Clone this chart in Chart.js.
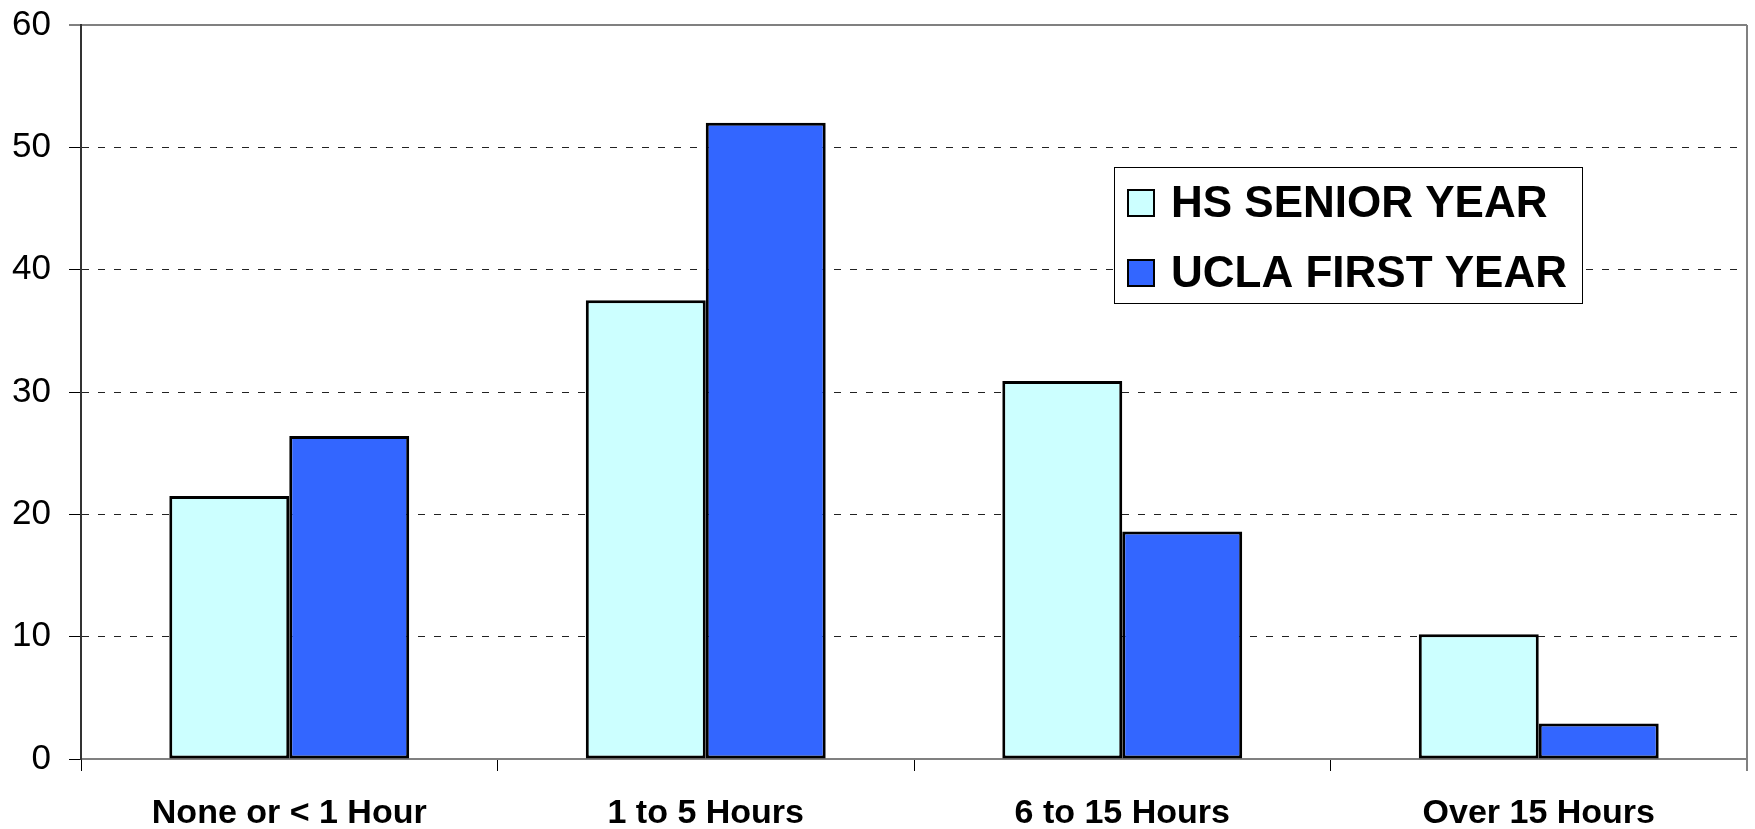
<!DOCTYPE html>
<html>
<head>
<meta charset="utf-8">
<script src="https://cdn.jsdelivr.net/npm/chart.js@4/dist/chart.umd.min.js"></script>
<style>
  html, body { margin: 0; padding: 0; background: #fff; }
  #wrap { width: 1755px; height: 829px; }
</style>
</head>
<body>
<div id="wrap"><canvas id="hoursChart"></canvas></div>
<script>
const categories = ['None or < 1 Hour', '1 to 5 Hours', '6 to 15 Hours', 'Over 15 Hours'];
const hsSenior = [21.5, 37.5, 30.9, 10.2];
const uclaFirst = [26.4, 52.0, 18.6, 2.9];
const yTicks = [0, 10, 20, 30, 40, 50, 60];

const FONT = '"Liberation Sans", Arial, sans-serif';

// draws the right-hand frame line and the boxed legend inside the plot
const frameAndLegend = {
    id: 'frameAndLegend',
    afterDraw(chart) {
        const ctx = chart.ctx;
        const area = chart.chartArea;
        ctx.save();
        ctx.strokeStyle = '#808080';
        ctx.lineWidth = 2;
        ctx.beginPath();
        ctx.moveTo(area.right, area.top);
        ctx.lineTo(area.right, area.bottom + 12);
        ctx.stroke();

        // legend box
        const bx = 1114, by = 167, bw = 468, bh = 136;
        ctx.fillStyle = '#fff';
        ctx.fillRect(bx, by, bw, bh);
        ctx.strokeStyle = '#000';
        ctx.lineWidth = 1;
        ctx.strokeRect(bx + 0.5, by + 0.5, bw, bh);

        ctx.font = 'bold 44px ' + FONT;
        ctx.textBaseline = 'middle';
        chart.data.datasets.forEach(function (ds, i) {
            const cy = 203 + i * 70;
            ctx.fillStyle = ds.backgroundColor;
            ctx.fillRect(1128, cy - 13, 26, 26);
            ctx.lineWidth = 2;
            ctx.strokeStyle = '#000';
            ctx.strokeRect(1128, cy - 13, 26, 26);
            ctx.fillStyle = '#000';
            ctx.fillText(ds.label, 1171, cy + 2);
        });
        ctx.restore();
    }
};

let chartCtx = document.getElementById('hoursChart').getContext('2d');
let hoursChart = new Chart(chartCtx, {
    type: 'bar',
    data: {
        labels: categories,
        datasets: [{
            label: 'HS SENIOR YEAR',
            data: hsSenior,
            backgroundColor: '#CCFFFF',
            borderColor: '#000',
            borderWidth: 3,
            borderSkipped: false,
            categoryPercentage: 0.576,
            barPercentage: 1.0
        }, {
            label: 'UCLA FIRST YEAR',
            data: uclaFirst,
            backgroundColor: '#3366FF',
            borderColor: '#000',
            borderWidth: 3,
            borderSkipped: false,
            categoryPercentage: 0.576,
            barPercentage: 1.0
        }]
    },
    options: {
        responsive: true,
        maintainAspectRatio: false,
        animation: false,
        layout: { padding: { top: 25, right: 8, left: 0, bottom: 0 } },
        plugins: {
            legend: { display: false },
            tooltip: { enabled: false }
        },
        scales: {
            x: {
                grid: {
                    offset: true,
                    drawOnChartArea: false,
                    tickLength: 12,
                    tickColor: '#000',
                    tickWidth: 1
                },
                border: { color: '#808080', width: 2 },
                ticks: {
                    color: '#000',
                    padding: 22,
                    font: { family: FONT, size: 34, weight: 'bold' }
                },
                afterFit: function (scale) {
                    scale.height = 70;
                    scale.paddingLeft = 0;
                    scale.paddingRight = 0;
                }
            },
            y: {
                min: 0,
                max: 60,
                afterBuildTicks: function (scale) {
                    scale.ticks = yTicks.map(function (v) { return { value: v }; });
                },
                grid: {
                    color: function (c) {
                        if (c.tick && c.tick.value === 60) return '#808080';
                        if (c.tick && c.tick.value === 0) return 'rgba(0,0,0,0)';
                        return '#222';
                    },
                    lineWidth: function (c) {
                        return (c.tick && c.tick.value === 60) ? 2 : 1;
                    },
                    tickLength: 12,
                    tickColor: '#000',
                    tickWidth: 1
                },
                border: {
                    color: '#333',
                    width: 2,
                    dash: function (c) {
                        return (c.tick && (c.tick.value === 60 || c.tick.value === 0)) ? [] : [7, 9];
                    }
                },
                ticks: {
                    color: '#000',
                    padding: 18,
                    font: { family: FONT, size: 35 }
                },
                afterFit: function (scale) {
                    scale.width = 81;
                    scale.paddingTop = 0;
                    scale.paddingBottom = 0;
                }
            }
        }
    },
    plugins: [frameAndLegend]
});
</script>
</body>
</html>
